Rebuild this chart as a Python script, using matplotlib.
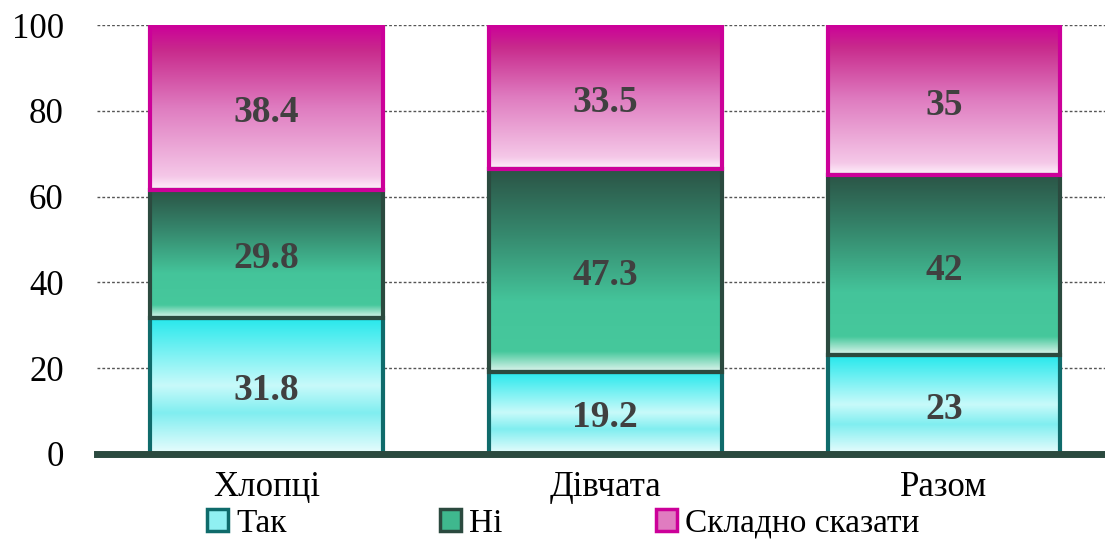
import numpy as np
import matplotlib
matplotlib.use("Agg")
import matplotlib.pyplot as plt
from matplotlib.colors import LinearSegmentedColormap
from matplotlib.patches import Patch

categories = ["Хлопці", "Дівчата", "Разом"]
series_names = ["Так", "Ні", "Складно сказати"]
tak = [31.8, 19.2, 23]
ni = [29.8, 47.3, 42]
skladno = [38.4, 33.5, 35]
labels = [["31.8", "19.2", "23"], ["29.8", "47.3", "42"], ["38.4", "33.5", "35"]]

# gradient stops (0 = bottom of segment, 1 = top)
grads = [
    [(0.0, "#eafdfd"), (0.3, "#80eef0"), (0.5, "#c8fafa"), (1.0, "#25e8ec")],
    [(0.0, "#e0f5ee"), (0.1, "#46c89c"), (0.35, "#44c49a"), (0.7, "#35856b"), (1.0, "#2b5446")],
    [(0.0, "#fff2fb"), (0.08, "#f5c8e8"), (0.5, "#df7cc0"), (0.85, "#c82a8c"), (1.0, "#cc0099")],
]
edges = ["#0f6b6b", "#2b4a3f", "#cc0099"]
mids = ["#90f0f2", "#3fb88e", "#e07cc0"]

serif = ["Liberation Serif", "DejaVu Serif"]
plt.rcParams["font.family"] = serif

fig = plt.figure(figsize=(11.05, 5.4), dpi=100)
ax = fig.add_axes([97 / 1105, 86 / 540, (1113.5 - 97) / 1105, (454 - 25) / 540])

x = np.arange(len(categories))
width = 0.687
data = [tak, ni, skladno]
bottoms = np.zeros(len(categories))

for s, vals in enumerate(data):
    cmap = LinearSegmentedColormap.from_list("g%d" % s, grads[s])
    grad = np.linspace(1, 0, 256).reshape(-1, 1)
    bars = ax.bar(x, vals, width, bottom=bottoms, facecolor="none",
                  edgecolor=edges[s], linewidth=3, zorder=3)
    for i, b in enumerate(bars):
        x0, y0 = b.get_x(), b.get_y()
        ax.imshow(grad, cmap=cmap, aspect="auto", vmin=0, vmax=1,
                  extent=(x0, x0 + b.get_width(), y0, y0 + b.get_height()),
                  zorder=2)
        ax.text(x[i], y0 + b.get_height() / 2 - 1.2, labels[s][i], ha="center",
                va="center", fontsize=27, fontweight="bold", color="#404040",
                zorder=4)
    bottoms = bottoms + np.array(vals)

ax.set_xlim(-0.5, 2.5)
ax.set_ylim(0, 100)
ax.set_yticks([0, 20, 40, 60, 80, 100])
ax.set_xticks(x)
ax.set_xticklabels(categories)
ax.tick_params(axis="both", length=0, labelsize=25)
ax.tick_params(axis="y", pad=24)
ax.tick_params(axis="x", pad=12)
ax.yaxis.grid(True, linestyle=(0, (2, 1.5)), color="#555555", linewidth=1)
ax.set_axisbelow(True)
for sp in ["top", "right", "left"]:
    ax.spines[sp].set_visible(False)
ax.spines["bottom"].set_color("#2b4a3f")
ax.spines["bottom"].set_linewidth(5)
ax.spines["bottom"].set_zorder(5)

handles = [Patch(facecolor=mids[i], edgecolor=edges[i], linewidth=2.5)
           for i in range(3)]
fig.legend(handles, series_names, loc="lower left", ncol=3, frameon=False,
           bbox_to_anchor=(194 / 1105, -0.022),
           prop={"family": serif, "size": 24},
           handlelength=0.62, handleheight=0.62, handletextpad=0.25,
           columnspacing=4.6, borderaxespad=0)

fig.savefig("out.png", dpi=100)
